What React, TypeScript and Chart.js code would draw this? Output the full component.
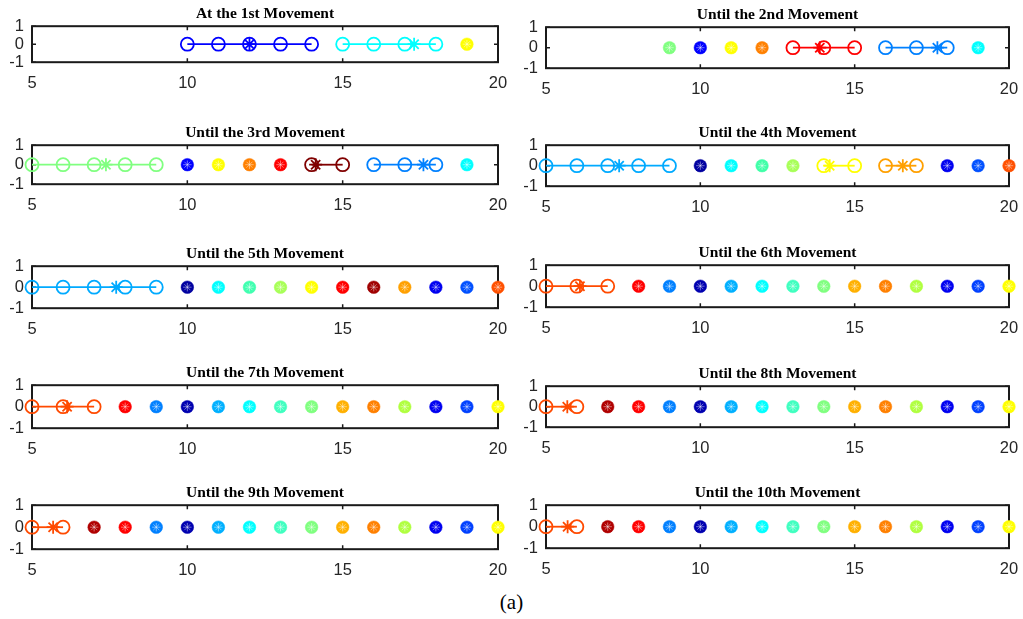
import React, { useEffect, useRef } from "react";
import { Chart, registerables } from "chart.js";

Chart.register(...registerables);

// ---------- tick labels ----------
const X_TICKS = [5, 10, 15, 20];
const Y_TICKS = [-1, 0, 1];

// ---------- titles ----------
const TITLES = [
  "At the 1st Movement",
  "Until the 2nd Movement",
  "Until the 3rd Movement",
  "Until the 4th Movement",
  "Until the 5th Movement",
  "Until the 6th Movement",
  "Until the 7th Movement",
  "Until the 8th Movement",
  "Until the 9th Movement",
  "Until the 10th Movement",
];

// ---------- panel 1 ----------
const P1_LINES = [[10, 11, 12, 13, 14], [15, 16, 17, 18]];
const P1_CENTERS = [12, 17.3];
const P1_LINE_COLORS = ["#0000ff", "#00ffff"];
const P1_DOTS = [19];
const P1_DOT_COLORS = ["#ffff00"];

// ---------- panel 2 ----------
const P2_LINES = [[13, 14, 15], [16, 17, 18]];
const P2_CENTERS = [13.87, 17.68];
const P2_LINE_COLORS = ["#ff0000", "#0080ff"];
const P2_DOTS = [9, 10, 11, 12, 19];
const P2_DOT_COLORS = ["#80ff80", "#0000ff", "#ffff00", "#ff8000", "#00ffff"];

// ---------- panel 3 ----------
const P3_LINES = [[5, 6, 7, 8, 9], [14, 15], [16, 17, 18]];
const P3_CENTERS = [7.38, 14.13, 17.6];
const P3_LINE_COLORS = ["#80ff80", "#800000", "#0080ff"];
const P3_DOTS = [10, 11, 12, 13, 19];
const P3_DOT_COLORS = ["#0000ff", "#ffff00", "#ff8000", "#ff0000", "#00ffff"];

// ---------- panel 4 ----------
const P4_LINES = [[5, 6, 7, 8, 9], [14, 15], [16, 17]];
const P4_CENTERS = [7.37, 14.19, 16.56];
const P4_LINE_COLORS = ["#00aaff", "#ffff00", "#ffa000"];
const P4_DOTS = [10, 11, 12, 13, 18, 19, 20];
const P4_DOT_COLORS = ["#0000a0", "#00ffff", "#40ffa8", "#a8ff58", "#0000f0", "#0050ff", "#ff5000"];

// ---------- panel 5 ----------
const P5_LINES = [[5, 6, 7, 8, 9]];
const P5_CENTERS = [7.71];
const P5_LINE_COLORS = ["#00aaff"];
const P5_DOTS = [10, 11, 12, 13, 14, 15, 16, 17, 18, 19, 20];
const P5_DOT_COLORS = ["#0000a0", "#00ffff", "#40ffb0", "#a8ff58", "#ffff00", "#ff0000", "#a00000", "#ffa000", "#0000f0", "#0050ff", "#ff5000"];

// ---------- panel 6 ----------
const P6_LINES = [[5, 6, 7]];
const P6_CENTERS = [6.1];
const P6_LINE_COLORS = ["#ff4a00"];
const P6_DOTS = [8, 9, 10, 11, 12, 13, 14, 15, 16, 17, 18, 19, 20];
const P6_DOT_COLORS = ["#ff0000", "#0080ff", "#0000b0", "#00b0ff", "#00ffff", "#40ffc0", "#80ff80", "#ffb000", "#ff8000", "#b0ff40", "#0000f0", "#0040ff", "#ffff00"];

// ---------- panel 7 ----------
const P7_LINES = [[5, 6, 7]];
const P7_CENTERS = [6.13];
const P7_LINE_COLORS = ["#ff4a00"];
const P7_DOTS = [8, 9, 10, 11, 12, 13, 14, 15, 16, 17, 18, 19, 20];
const P7_DOT_COLORS = ["#ff0000", "#0080ff", "#0000b0", "#00b0ff", "#00ffff", "#40ffc0", "#80ff80", "#ffb000", "#ff8000", "#b0ff40", "#0000f0", "#0040ff", "#ffff00"];

// ---------- panel 8 ----------
const P8_LINES = [[5, 6]];
const P8_CENTERS = [5.69];
const P8_LINE_COLORS = ["#ff4a00"];
const P8_DOTS = [7, 8, 9, 10, 11, 12, 13, 14, 15, 16, 17, 18, 19, 20];
const P8_DOT_COLORS = ["#b00000", "#ff0000", "#0080ff", "#0000b0", "#00b0ff", "#00ffff", "#40ffc0", "#80ff80", "#ffb000", "#ff8000", "#b0ff40", "#0000f0", "#0040ff", "#ffff00"];

// ---------- panel 9 ----------
const P9_LINES = [[5, 6]];
const P9_CENTERS = [5.68];
const P9_LINE_COLORS = ["#ff4a00"];
const P9_DOTS = [7, 8, 9, 10, 11, 12, 13, 14, 15, 16, 17, 18, 19, 20];
const P9_DOT_COLORS = ["#b00000", "#ff0000", "#0080ff", "#0000b0", "#00b0ff", "#00ffff", "#40ffc0", "#80ff80", "#ffb000", "#ff8000", "#b0ff40", "#0000f0", "#0040ff", "#ffff00"];

// ---------- panel 10 ----------
const P10_LINES = [[5, 6]];
const P10_CENTERS = [5.7];
const P10_LINE_COLORS = ["#ff4a00"];
const P10_DOTS = [7, 8, 9, 10, 11, 12, 13, 14, 15, 16, 17, 18, 19, 20];
const P10_DOT_COLORS = ["#b00000", "#ff0000", "#0080ff", "#0000b0", "#00b0ff", "#00ffff", "#40ffc0", "#80ff80", "#ffb000", "#ff8000", "#b0ff40", "#0000f0", "#0040ff", "#ffff00"];

const PANELS = [
  { lines: P1_LINES, centers: P1_CENTERS, lineColors: P1_LINE_COLORS, dots: P1_DOTS, dotColors: P1_DOT_COLORS },
  { lines: P2_LINES, centers: P2_CENTERS, lineColors: P2_LINE_COLORS, dots: P2_DOTS, dotColors: P2_DOT_COLORS },
  { lines: P3_LINES, centers: P3_CENTERS, lineColors: P3_LINE_COLORS, dots: P3_DOTS, dotColors: P3_DOT_COLORS },
  { lines: P4_LINES, centers: P4_CENTERS, lineColors: P4_LINE_COLORS, dots: P4_DOTS, dotColors: P4_DOT_COLORS },
  { lines: P5_LINES, centers: P5_CENTERS, lineColors: P5_LINE_COLORS, dots: P5_DOTS, dotColors: P5_DOT_COLORS },
  { lines: P6_LINES, centers: P6_CENTERS, lineColors: P6_LINE_COLORS, dots: P6_DOTS, dotColors: P6_DOT_COLORS },
  { lines: P7_LINES, centers: P7_CENTERS, lineColors: P7_LINE_COLORS, dots: P7_DOTS, dotColors: P7_DOT_COLORS },
  { lines: P8_LINES, centers: P8_CENTERS, lineColors: P8_LINE_COLORS, dots: P8_DOTS, dotColors: P8_DOT_COLORS },
  { lines: P9_LINES, centers: P9_CENTERS, lineColors: P9_LINE_COLORS, dots: P9_DOTS, dotColors: P9_DOT_COLORS },
  { lines: P10_LINES, centers: P10_CENTERS, lineColors: P10_LINE_COLORS, dots: P10_DOTS, dotColors: P10_DOT_COLORS },
];

// ---------- layout (pixel frame of each axes box: left, right, top, bottom) ----------
const BOX_FRAMES = [
  [32, 498, 26, 62],
  [546, 1009, 27, 68],
  [32, 498, 145, 184],
  [546, 1009, 145, 186],
  [32, 498, 266, 308],
  [546, 1009, 265, 307],
  [32, 498, 385, 428],
  [546, 1009, 386, 427],
  [32, 498, 505, 549],
  [546, 1009, 505, 548],
];

const TITLE_FONT = 15.5;
const TITLE_PAD_TOP = 1;
const TITLE_PAD_BOTTOM = 2.6;
const TITLE_H = TITLE_PAD_TOP + TITLE_FONT * 1.2 + TITLE_PAD_BOTTOM;
const XAXIS_H = 34;
const TICK_FONT = 16.5;
const AXIS_COLOR = "#262626";
const SANS = "'Liberation Sans', Arial, Helvetica, sans-serif";
const SERIF = "'Liberation Serif', 'Times New Roman', Times, serif";

const framePlugin = {
  id: "matlabFrame",
  beforeDatasetsDraw(chart: any) {
    const { ctx, chartArea: a, scales } = chart;
    ctx.save();
    ctx.strokeStyle = "#1a1a1a";
    ctx.lineWidth = 2;
    ctx.strokeRect(a.left, a.top, a.right - a.left, a.bottom - a.top);
    ctx.lineWidth = 1.5;
    const tl = 4;
    ctx.beginPath();
    X_TICKS.forEach((v) => {
      const px = scales.x.getPixelForValue(v);
      ctx.moveTo(px, a.top);
      ctx.lineTo(px, a.top + tl);
      ctx.moveTo(px, a.bottom);
      ctx.lineTo(px, a.bottom - tl);
    });
    Y_TICKS.forEach((v) => {
      const py = scales.y.getPixelForValue(v);
      ctx.moveTo(a.left, py);
      ctx.lineTo(a.left + tl, py);
      ctx.moveTo(a.right, py);
      ctx.lineTo(a.right - tl, py);
    });
    ctx.stroke();
    ctx.restore();
  },
};

function Panel({ idx }: { idx: number }) {
  const ref = useRef<HTMLCanvasElement>(null);
  const [bl, br, bt, bb] = BOX_FRAMES[idx];
  const col = idx % 2;
  const canvasLeft = col === 0 ? 0 : 512;
  const canvasWidth = col === 0 ? 512 : 511;
  const top = bt - TITLE_H;
  const height = Math.round(bb - top + XAXIS_H);
  const yAxisW = bl - canvasLeft;
  const padRight = canvasLeft + canvasWidth - br;
  const bottomPad = height - XAXIS_H - (bb - top);

  useEffect(() => {
    const p = PANELS[idx];
    const datasets: any[] = [];
    p.lines.forEach((xs: number[], i: number) => {
      const c = p.lineColors[i];
      datasets.push({
        data: xs.map((x) => ({ x, y: 0 })),
        showLine: true,
        borderColor: c,
        borderWidth: 1.8,
        backgroundColor: "rgba(0,0,0,0)",
        pointStyle: "circle",
        pointRadius: 6.5,
        pointBorderWidth: 1.8,
        pointBorderColor: c,
        pointBackgroundColor: "rgba(0,0,0,0)",
        clip: false,
        order: 2,
      });
      datasets.push({
        data: [{ x: p.centers[i], y: 0 }],
        showLine: false,
        pointStyle: "star",
        pointRadius: 6.5,
        pointBorderWidth: 1.8,
        pointBorderColor: c,
        pointBackgroundColor: c,
        clip: false,
        order: 1,
      });
    });
    p.dots.forEach((x: number, i: number) => {
      const c = p.dotColors[i];
      datasets.push({
        data: [{ x, y: 0 }],
        showLine: false,
        pointStyle: "circle",
        pointRadius: 6.3,
        pointBorderWidth: 0.5,
        pointBorderColor: c,
        pointBackgroundColor: c,
        clip: false,
        order: 3,
      });
      datasets.push({
        data: [{ x, y: 0 }],
        showLine: false,
        pointStyle: "star",
        pointRadius: 4.2,
        pointBorderWidth: 0.8,
        pointBorderColor: "rgba(255,255,255,0.55)",
        pointBackgroundColor: "rgba(255,255,255,0.55)",
        clip: false,
        order: 0,
      });
    });

    const chart = new Chart(ref.current as HTMLCanvasElement, {
      type: "scatter",
      data: { datasets },
      plugins: [framePlugin],
      options: {
        responsive: false,
        animation: false,
        devicePixelRatio: 1,
        layout: { padding: { left: 0, right: padRight, top: 0, bottom: bottomPad } },
        plugins: {
          legend: { display: false },
          tooltip: { enabled: false },
          title: {
            display: true,
            text: TITLES[idx],
            fullSize: false,
            color: "#000",
            font: { family: SERIF, size: TITLE_FONT, weight: "bold", lineHeight: 1.2 },
            padding: { top: TITLE_PAD_TOP, bottom: TITLE_PAD_BOTTOM },
          },
        },
        scales: {
          x: {
            type: "linear",
            min: 5,
            max: 20,
            grid: { display: false, drawTicks: false },
            border: { display: false },
            ticks: { padding: 11, autoSkip: false, maxRotation: 0, color: AXIS_COLOR, font: { family: SANS, size: TICK_FONT } },
            afterBuildTicks: (s: any) => {
              s.ticks = X_TICKS.map((v) => ({ value: v }));
            },
            afterFit: (s: any) => {
              s.height = XAXIS_H;
              s.paddingLeft = 0;
              s.paddingRight = 0;
            },
          },
          y: {
            type: "linear",
            min: -1,
            max: 1,
            grid: { display: false, drawTicks: false },
            border: { display: false },
            ticks: { padding: 8, autoSkip: false, color: AXIS_COLOR, font: { family: SANS, size: TICK_FONT } },
            afterBuildTicks: (s: any) => {
              s.ticks = Y_TICKS.map((v) => ({ value: v }));
            },
            afterFit: (s: any) => {
              s.width = yAxisW;
              s.paddingTop = 0;
              s.paddingBottom = 0;
            },
          },
        },
      } as any,
    });
    return () => chart.destroy();
  }, [idx]);

  return (
    <canvas
      ref={ref}
      width={canvasWidth}
      height={height}
      style={{ position: "absolute", left: canvasLeft, top: top, width: canvasWidth, height: height }}
    />
  );
}

export default function App() {
  return (
    <div style={{ position: "absolute", left: 0, top: 0, width: 1023, height: 619, background: "#fff", overflow: "hidden" }}>
      {TITLES.map((_, i) => (
        <Panel key={i} idx={i} />
      ))}
      <div
        style={{
          position: "absolute",
          left: 0,
          width: 1023,
          top: 590,
          textAlign: "center",
          fontFamily: SERIF,
          fontSize: 21,
          lineHeight: "24px",
          color: "#000",
        }}
      >
        (a)
      </div>
    </div>
  );
}
